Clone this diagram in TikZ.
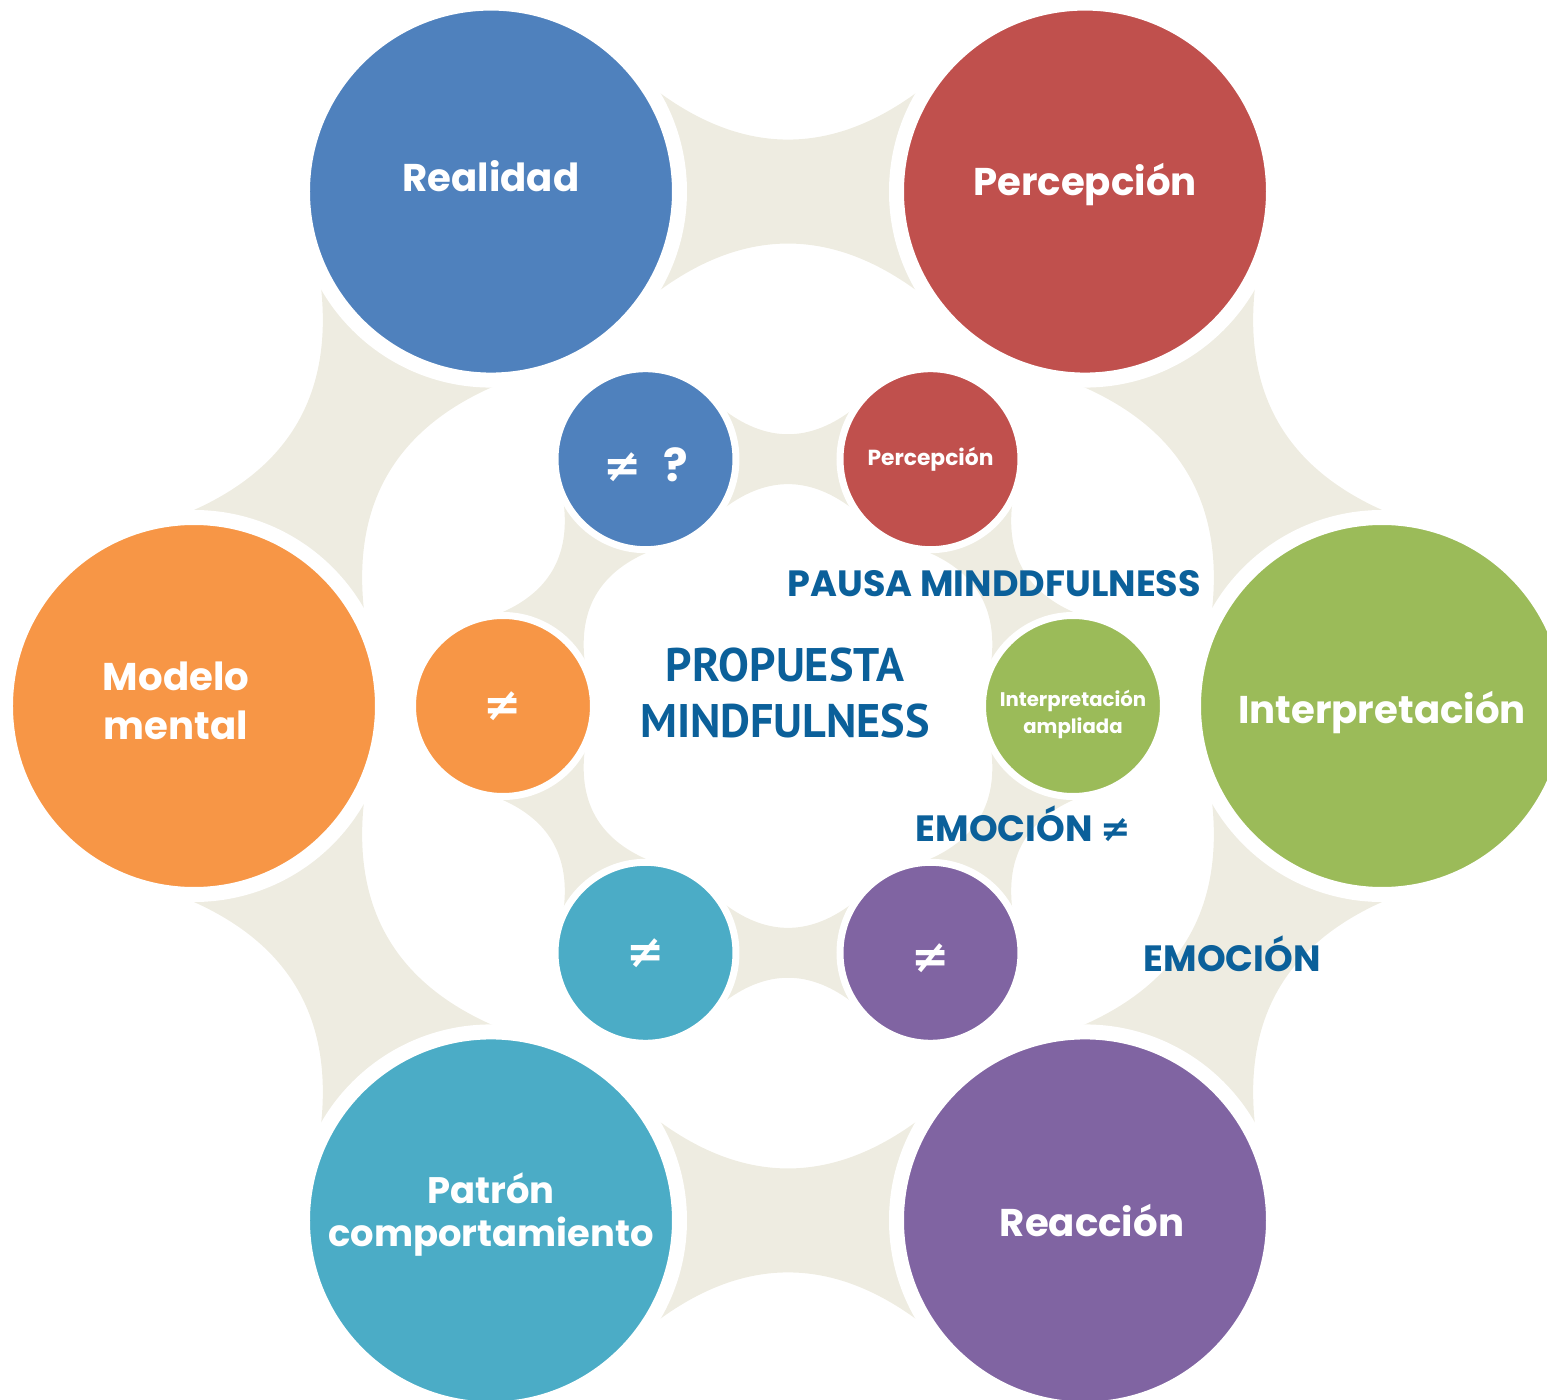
\documentclass[tikz,border=0pt]{standalone}
\usepackage{fontspec}
\setmainfont{Poppins}
\newfontfamily\narrowfont[FakeStretch=0.98]{PT Sans}
\newfontfamily\symfont{DejaVu Sans}

\definecolor{realblue}{HTML}{4F81BD}
\definecolor{percred}{HTML}{C0504D}
\definecolor{interpgreen}{HTML}{9BBB59}
\definecolor{modorange}{HTML}{F79646}
\definecolor{patraqua}{HTML}{4BACC6}
\definecolor{reacpurple}{HTML}{8064A2}
\definecolor{linkbeige}{HTML}{EEECE1}
\definecolor{titleblue}{RGB}{11,96,154}

% beige link between two neighbouring circles, #1 = distance between them
\newcommand\linkshape[1]{%
  \fill[linkbeige] (0.283*#1,0.167*#1) .. controls (0.428*#1,0.061*#1) and (0.572*#1,0.061*#1) .. (0.717*#1,0.167*#1)
    -- (0.717*#1,-0.167*#1) .. controls (0.572*#1,-0.061*#1) and (0.428*#1,-0.061*#1) .. (0.283*#1,-0.167*#1) -- cycle;}
\newcommand\neqsym{{\symfont\bfseries ≠}}

\tikzset{
  bigcircle/.style={circle,fill=#1,draw=white,line width=1.5mm,minimum size=3.77cm,inner sep=0pt,
    align=center,text=white,font=\bfseries\fontsize{11}{14}\selectfont},
  smallcircle/.style={circle,fill=#1,draw=white,line width=0.7mm,minimum size=1.81cm,inner sep=0pt,
    align=center,text=white,font=\bfseries\fontsize{6.2}{7.7}\selectfont},
  neqsign/.style={font=\bfseries\fontsize{13}{15}\selectfont},
  caption/.style={text=titleblue,inner sep=0pt,font=\bfseries\fontsize{10.4}{12}\selectfont},
}

\begin{document}
\begin{tikzpicture}
\useasboundingbox (-7.88,-6.94) rectangle (7.59,7.06);
\foreach \a [count=\i] in {0,60,...,300} {
  \coordinate (o\i) at (\a:5.94);
  \coordinate (n\i) at (\a:2.85);
}
\foreach \a [count=\i] in {0,60,...,300} {
  \begin{scope}[shift={(o\i)},rotate=\a+120] \linkshape{5.94} \end{scope}
  \begin{scope}[shift={(n\i)},rotate=\a+120] \linkshape{2.85} \end{scope}
}

\node[bigcircle=interpgreen,text height=0.45cm] (interp) at (o1) {Interpretación};
\node[bigcircle=percred,text depth=0.24cm] (percep) at (o2) {Percepción};
\node[bigcircle=realblue,text depth=0.32cm] (real) at (o3) {Realidad};
\node[bigcircle=modorange,text depth=0.1cm] (modelo) at (o4) {Modelo\hspace*{0.36cm}\\mental\hspace*{0.36cm}};
\node[bigcircle=patraqua,text depth=0.21cm,font=\bfseries\fontsize{10.5}{12.2}\selectfont] (patron) at (o5) {Patrón\\comportamiento};
\node[bigcircle=reacpurple] (reac) at (o6) {\hspace*{0.14cm}Reacción};

\node[smallcircle=interpgreen,text height=0.61cm,font=\bfseries\fontsize{5.6}{7.7}\selectfont] (interpamp) at (n1) {Interpretación\\ampliada};
\node[smallcircle=percred] (percepin) at (n2) {Percepción};
\node[smallcircle=realblue,neqsign,text height=0.45cm] (realin) at (n3) {\neqsym\hspace{0.22cm}?};
\node[smallcircle=modorange,neqsign] (modeloin) at (n4) {\neqsym};
\node[smallcircle=patraqua,neqsign] (patronin) at (n5) {\neqsym};
\node[smallcircle=reacpurple,neqsign,text height=0.4cm] (reacin) at (n6) {\neqsym};

\node[text=titleblue,align=center,font=\narrowfont\bfseries\fontsize{13.4}{16}\selectfont] (propuesta) at (-0.03,0.13) {PROPUESTA\\MINDFULNESS};
\node[caption,anchor=base west] (pausa) at (-0.01,1.09) {PAUSA MINDDFULNESS};
\node[caption,anchor=base west] (emoneq) at (1.27,-1.35) {EMOCIÓN \neqsym};
\node[caption,anchor=base west] (emo) at (3.55,-2.65) {EMOCIÓN};
\end{tikzpicture}
\end{document}
